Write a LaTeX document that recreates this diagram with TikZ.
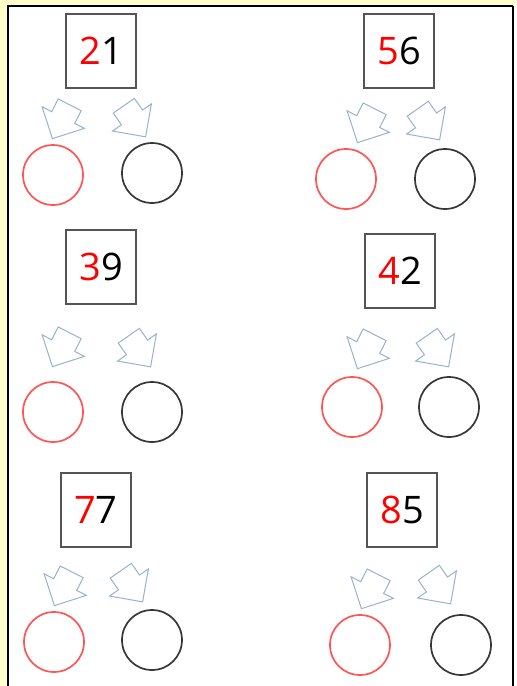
\documentclass[tikz,border=0pt]{standalone}
\usepackage{fontspec}
\setmainfont{Open Sans}
\usepackage{xcolor}
\usetikzlibrary{shapes.arrows}

\definecolor{cream}{RGB}{255,255,204}
\definecolor{digitred}{RGB}{255,0,0}
\definecolor{ringred}{RGB}{255,85,85}
\definecolor{ringblack}{RGB}{55,55,55}
\definecolor{boxgray}{RGB}{85,85,85}
\definecolor{arrowblue}{RGB}{150,178,205}

\begin{document}
\begin{tikzpicture}[x=0.025cm, y=-0.025cm,
  numbox/.style={draw=boxgray, line width=1.5pt, minimum width=1.75cm, minimum height=1.85cm, inner sep=0pt, font=\fontsize{27}{30}\selectfont},
  redring/.style={circle, draw=ringred, line width=1.2pt, minimum size=1.5cm},
  blackring/.style={circle, draw=ringblack, line width=1.2pt, minimum size=1.5cm},
  splitarrow/.style={single arrow, draw=arrowblue, line width=0.7pt, minimum height=0.95cm, minimum width=1.17cm, single arrow head extend=0.27cm, inner xsep=0pt, inner ysep=0.31cm}]
\useasboundingbox (0,0) rectangle (516,686);
\fill[cream] (0,0) rectangle (516,686);
\fill[white] (8,6) rectangle (516,686);
\draw[line width=2pt] (8,690) -- (8,6) -- (513,6);
\draw[line width=1pt] (513,6) -- (513,690);

% 21
\node[numbox] (num21) at (101,51) {{\color{digitred}2}1};
\node[splitarrow, rotate=243] (la21) at (64,116) {};
\node[splitarrow, rotate=305] (ra21) at (131,116) {};
\node[redring] (red21) at (53,175) {};
\node[blackring] (blk21) at (152,173) {};

% 56
\node[numbox] (num56) at (399,51) {{\color{digitred}5}6};
\node[splitarrow, rotate=243] (la56) at (369,120) {};
\node[splitarrow, rotate=305] (ra56) at (425,119) {};
\node[redring] (red56) at (346,179) {};
\node[blackring] (blk56) at (445,179) {};

% 39
\node[numbox] (num39) at (101,267) {{\color{digitred}3}9};
\node[splitarrow, rotate=243] (la39) at (64,344) {};
\node[splitarrow, rotate=305] (ra39) at (136,346) {};
\node[redring] (red39) at (53,412) {};
\node[blackring] (blk39) at (152,412) {};

% 42
\node[numbox] (num42) at (400,271) {{\color{digitred}4}2};
\node[splitarrow, rotate=243] (la42) at (369,346) {};
\node[splitarrow, rotate=305] (ra42) at (434,346) {};
\node[redring] (red42) at (352,407) {};
\node[blackring] (blk42) at (449,407) {};

% 77
\node[numbox] (num77) at (96,510) {{\color{digitred}7}7};
\node[splitarrow, rotate=243] (la77) at (66,583) {};
\node[splitarrow, rotate=305] (ra77) at (128,581) {};
\node[redring] (red77) at (54,642) {};
\node[blackring] (blk77) at (152,640) {};

% 85
\node[numbox] (num85) at (402,510) {{\color{digitred}8}5};
\node[splitarrow, rotate=243] (la85) at (373,586) {};
\node[splitarrow, rotate=305] (ra85) at (436,583) {};
\node[redring] (red85) at (360,645) {};
\node[blackring] (blk85) at (461,645) {};
\end{tikzpicture}
\end{document}
